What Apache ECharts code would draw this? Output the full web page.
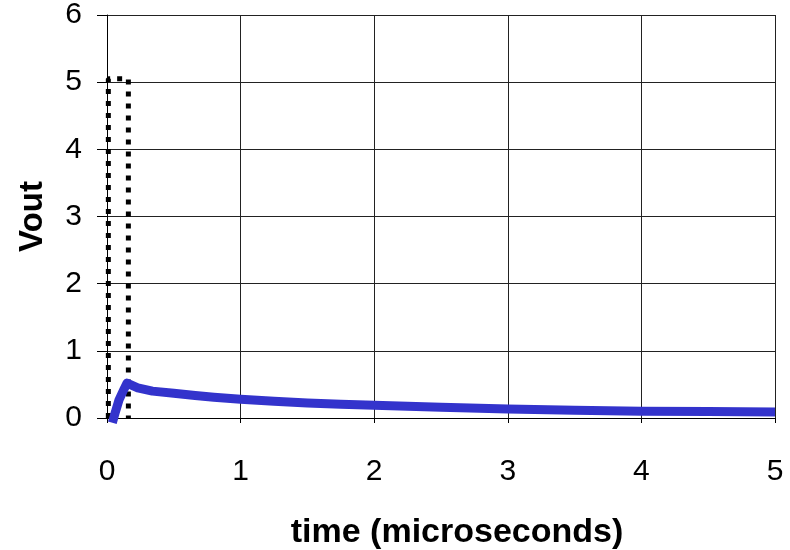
<!DOCTYPE html>
<html>
<head>
<meta charset="utf-8">
<script src="https://cdn.jsdelivr.net/npm/echarts@6/dist/echarts.min.js"></script>
<style>
  html, body { margin: 0; padding: 0; background: #fff; }
  #chart { width: 790px; height: 550px; }
</style>
</head>
<body>
<div id="chart"></div>
<script>
// Input pulse (dotted): time in microseconds, voltage in volts
const pulseTime = [0.01, 0.01, 0.16, 0.16];
const pulseVolt = [0, 5.05, 5.05, 0];

// Output voltage response
const outTime = [0.04, 0.06, 0.09, 0.13, 0.15, 0.16, 0.23, 0.34, 0.5, 0.66, 0.8, 1.0, 1.25, 1.5, 1.75, 2.0, 2.5, 3.0, 3.5, 4.0, 4.5, 5.0];
const outVolt = [-0.07, 0.07, 0.27, 0.44, 0.52, 0.5, 0.45, 0.4, 0.37, 0.335, 0.31, 0.28, 0.25, 0.225, 0.205, 0.19, 0.16, 0.135, 0.115, 0.1, 0.095, 0.09];

const xTicks = { min: 0, max: 5, interval: 1 };
const yTicks = { min: 0, max: 6, interval: 1 };

const FONT = '"Liberation Sans", Arial, sans-serif';

const zip = (a, b) => a.map((v, i) => [v, b[i]]);

const chart = echarts.init(document.getElementById('chart'), null, { renderer: 'canvas' });
chart.setOption({
  animation: false,
  backgroundColor: '#ffffff',
  grid: { left: 107, right: 15, top: 15, bottom: 132, containLabel: false, outerBoundsMode: 'none' },
  xAxis: {
    type: 'value',
    min: xTicks.min, max: xTicks.max, interval: xTicks.interval,
    name: 'time (microseconds)',
    nameLocation: 'middle',
    nameGap: 98,
    nameTextStyle: { fontFamily: FONT, fontSize: 34, fontWeight: 'bold', color: '#000', padding: [0, 0, 0, 32] },
    axisLine: { show: true, lineStyle: { color: '#000', width: 1 } },
    axisTick: { show: true, length: 5, lineStyle: { color: '#000' } },
    axisLabel: { fontFamily: FONT, fontSize: 30, color: '#000', margin: 39 },
    splitLine: { show: true, lineStyle: { color: '#222', width: 1 } }
  },
  yAxis: {
    type: 'value',
    min: yTicks.min, max: yTicks.max, interval: yTicks.interval,
    name: 'Vout',
    nameLocation: 'middle',
    nameGap: 58,
    nameRotate: 90,
    nameTextStyle: { fontFamily: FONT, fontSize: 33, fontWeight: 'bold', color: '#000' },
    axisLine: { show: true, lineStyle: { color: '#000', width: 1 } },
    axisTick: { show: true, length: 10, lineStyle: { color: '#000' } },
    axisLabel: { fontFamily: FONT, fontSize: 30, color: '#000', margin: 25, padding: [6, 0, 0, 0] },
    splitLine: { show: true, lineStyle: { color: '#222', width: 1 } }
  },
  series: [
    {
      name: 'Vin',
      type: 'line',
      data: zip(pulseTime, pulseVolt),
      showSymbol: false,
      clip: false,
      lineStyle: { color: '#000', width: 5, type: [5, 7] },
      z: 3
    },
    {
      name: 'Vout',
      type: 'line',
      data: zip(outTime, outVolt),
      showSymbol: false,
      clip: false,
      lineStyle: { color: '#3333cc', width: 9, cap: 'butt', join: 'round' },
      z: 4
    }
  ]
});
</script>
</body>
</html>
